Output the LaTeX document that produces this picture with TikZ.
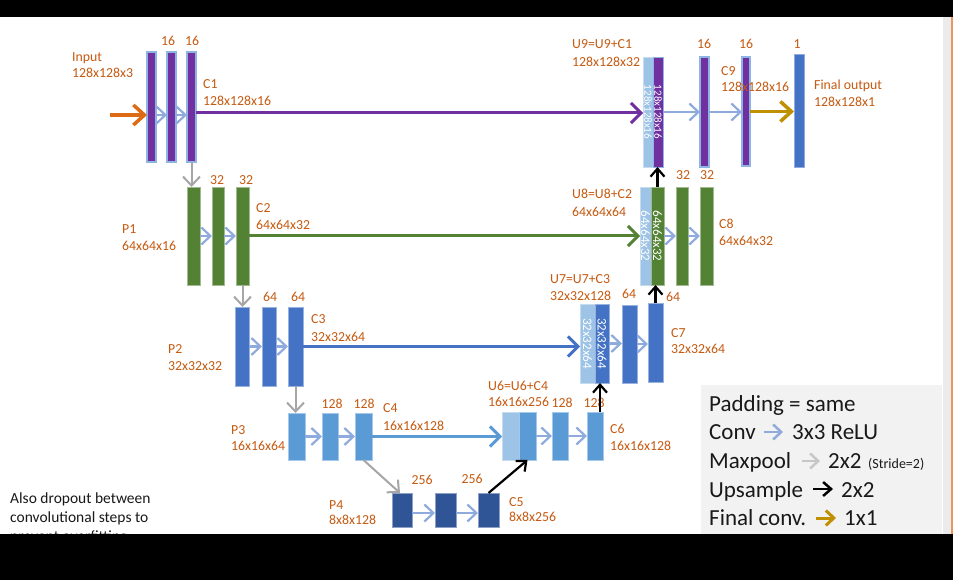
\documentclass[tikz,border=0pt]{standalone}
\usepackage{fontspec}
\setmainfont{Carlito}
\usetikzlibrary{arrows.meta}
\definecolor{purp}{HTML}{7030A0}
\definecolor{outl}{HTML}{8EB4E3}
\definecolor{grn}{HTML}{548235}
\definecolor{blu}{HTML}{4472C4}
\definecolor{lblu}{HTML}{5B9BD5}
\definecolor{dblu}{HTML}{2F5597}
\definecolor{cat}{HTML}{9DC3E6}
\definecolor{lab}{HTML}{C55A11}
\definecolor{arr}{HTML}{8FAADC}
\definecolor{gold}{HTML}{BF9000}
\definecolor{inor}{HTML}{DD6A14}
\definecolor{gry}{HTML}{A6A6A6}
\definecolor{legbg}{HTML}{F2F2F2}
\begin{document}
\begin{tikzpicture}[x=1pt,y=-1pt,
  bar/.style={rectangle, inner sep=0pt, outer sep=0pt, anchor=north west},
  pbar/.style={bar, fill=purp, draw=outl, line width=1.2pt},
  gbar/.style={bar, fill=grn, draw=grn!55!white, line width=0.6pt},
  bbar/.style={bar, fill=blu, draw=blu!55!white, line width=0.6pt},
  lbbar/.style={bar, fill=lblu, draw=lblu!55!white, line width=0.6pt},
  dbbar/.style={bar, fill=dblu, draw=dblu!55!white, line width=0.6pt},
  catbar/.style={bar, fill=cat, draw=cat!60!white, line width=0.6pt},
  obar/.style={bar, fill=blu, draw=blu!60!white, line width=0.6pt},
  lbl/.style={text=lab, font=\fontsize{13.8}{16}\selectfont, inner sep=0pt, anchor=west, text height=9pt, text depth=0pt},
  num/.style={lbl, anchor=center},
  rot/.style={text=white, rotate=-90, inner sep=0pt, font=\fontsize{#1}{#1}\selectfont},
  leg/.style={font=\fontsize{23}{26}\selectfont, text=black!90, inner sep=0pt, anchor=base west},
  note/.style={font=\fontsize{15.5}{18}\selectfont, text=black!90, inner sep=0pt, anchor=base west},
  conv/.style={draw=arr, line width=2.2pt, -{Straight Barb[length=9pt,width=17pt]}},
  skip/.style={draw=#1, line width=3pt, -{Straight Barb[length=10pt,width=20pt]}},
  pool/.style={draw=gry, line width=2pt, -{Straight Barb[length=9pt,width=17pt]}},
  upc/.style={draw=black, line width=2.2pt, -{Straight Barb[length=8pt,width=14pt]}},
  fin/.style={draw=gold, line width=3.5pt, -{Straight Barb[length=11pt,width=20pt]}},
  inp/.style={draw=inor, line width=3.5pt, -{Straight Barb[length=11pt,width=20pt]}}
]
\useasboundingbox (0,0) rectangle (953,580);
\fill[white] (0,0) rectangle (953,580);
% right edge strip
\fill[black!8] (943,17) rectangle (951,534);
\fill[inor!70!white] (951,17) rectangle (953,534);

% legend box
\fill[legbg] (701,385) rectangle (942,534);

% ---------- Row 1 ----------
\node[pbar, minimum width=9pt, minimum height=110pt] (b11) at (147,52) {};
\node[pbar, minimum width=9pt, minimum height=110pt] (b12) at (167,52) {};
\node[pbar, minimum width=9pt, minimum height=110pt] (b13) at (187,52) {};
\node[catbar, minimum width=10pt, minimum height=110pt] (u9a) at (643,57) {};
\node[bar, fill=purp, draw=outl, line width=0.8pt, minimum width=10pt, minimum height=110pt] (u9b) at (653,57) {};
\node[pbar, minimum width=9pt, minimum height=110pt] (c9a) at (700,57) {};
\node[pbar, minimum width=8pt, minimum height=109pt] (c9b) at (742,57) {};
\node[obar, minimum width=10pt, minimum height=113pt] (out) at (794,54) {};
\node[rot=11] (u9at) at (u9a.center) {128x128x16};
\node[rot=11] (u9bt) at (u9b.center) {128x128x16};

% ---------- Row 2 ----------
\node[gbar, minimum width=13pt, minimum height=98pt] (p1a) at (187,187) {};
\node[gbar, minimum width=12pt, minimum height=98pt] (p1b) at (212,187) {};
\node[gbar, minimum width=13pt, minimum height=98pt] (c2) at (236,187) {};
\node[catbar, minimum width=11pt, minimum height=98pt] (u8a) at (640,187) {};
\node[gbar, minimum width=13pt, minimum height=98pt] (u8b) at (651,187) {};
\node[gbar, minimum width=12pt, minimum height=98pt] (c8a) at (676,187) {};
\node[gbar, minimum width=13pt, minimum height=98pt] (c8b) at (700,187) {};
\node[rot=13] (u8at) at (u8a.center) {64x64x32};
\node[rot=13] (u8bt) at (u8b.center) {64x64x32};

% ---------- Row 3 ----------
\node[bbar, minimum width=14pt, minimum height=79pt] (p2a) at (235,307) {};
\node[bbar, minimum width=14pt, minimum height=79pt] (p2b) at (262,307) {};
\node[bbar, minimum width=15pt, minimum height=79pt] (c3) at (288,307) {};
\node[catbar, minimum width=15pt, minimum height=79pt] (u7a) at (580,304) {};
\node[bbar, minimum width=14pt, minimum height=79pt] (u7b) at (595,304) {};
\node[bbar, minimum width=15pt, minimum height=78pt] (c7a) at (622,305) {};
\node[bbar, minimum width=15pt, minimum height=79pt] (c7b) at (648,303) {};
\node[rot=13] (u7at) at (u7a.center) {32x32x64};
\node[rot=13] (u7bt) at (u7b.center) {32x32x64};

% ---------- Row 4 ----------
\node[lbbar, minimum width=17pt, minimum height=47pt] (p3a) at (288,413) {};
\node[lbbar, minimum width=16pt, minimum height=47pt] (p3b) at (322,413) {};
\node[lbbar, minimum width=17pt, minimum height=47pt] (c4) at (355,413) {};
\node[catbar, minimum width=17pt, minimum height=48pt] (u6a) at (502,412) {};
\node[lbbar, minimum width=17pt, minimum height=48pt] (u6b) at (519,412) {};
\node[lbbar, minimum width=16pt, minimum height=48pt] (c6a) at (552,412) {};
\node[lbbar, minimum width=16pt, minimum height=48pt] (c6b) at (587,412) {};

% ---------- Row 5 ----------
\node[dbbar, minimum width=20pt, minimum height=34pt] (p4a) at (392,493) {};
\node[dbbar, minimum width=21pt, minimum height=34pt] (p4b) at (435,493) {};
\node[dbbar, minimum width=21pt, minimum height=34pt] (c5) at (478,493) {};

% ---------- Labels ----------
\node[num] (n11) at (168,41) {16};
\node[num] (n12) at (192,41) {16};
\node[lbl] (linpa) at (72,57) {Input};
\node[lbl] (linpb) at (72,73) {128x128x3};
\node[lbl] (lc1a) at (203,84) {C1};
\node[lbl] (lc1b) at (203,101) {128x128x16};
\node[lbl] (lu9a) at (572,44) {U9=U9+C1};
\node[lbl] (lu9b) at (572,62) {128x128x32};
\node[num] (n91) at (704,44) {16};
\node[num] (n92) at (746,44) {16};
\node[num] (n93) at (797,44) {1};
\node[lbl] (lc9a) at (721,71) {C9};
\node[lbl] (lc9b) at (721,87) {128x128x16};
\node[lbl] (louta) at (814,85) {Final output};
\node[lbl] (loutb) at (814,102) {128x128x1};

\node[num] (n21) at (217,180) {32};
\node[num] (n22) at (246,180) {32};
\node[lbl] (lp1a) at (122,229) {P1};
\node[lbl] (lp1b) at (122,246) {64x64x16};
\node[lbl] (lc2a) at (256,208) {C2};
\node[lbl] (lc2b) at (256,225) {64x64x32};
\node[lbl] (lu8a) at (572,194) {U8=U8+C2};
\node[lbl] (lu8b) at (572,212) {64x64x64};
\node[num] (n81) at (683,175) {32};
\node[num] (n82) at (707,175) {32};
\node[lbl] (lc8a) at (719,224) {C8};
\node[lbl] (lc8b) at (719,241) {64x64x32};

\node[num] (n31) at (270,297) {64};
\node[num] (n32) at (298,297) {64};
\node[lbl] (lp2a) at (168,349) {P2};
\node[lbl] (lp2b) at (168,366) {32x32x32};
\node[lbl] (lc3a) at (311,319) {C3};
\node[lbl] (lc3b) at (311,337) {32x32x64};
\node[lbl] (lu7a) at (550,279) {U7=U7+C3};
\node[lbl] (lu7b) at (550,296) {32x32x128};
\node[num] (n71) at (629,294) {64};
\node[num] (n72) at (673,297) {64};
\node[lbl] (lc7a) at (671,333) {C7};
\node[lbl] (lc7b) at (671,349) {32x32x64};

\node[num] (n41) at (332,404) {128};
\node[num] (n42) at (364,404) {128};
\node[lbl] (lp3a) at (231,430) {P3};
\node[lbl] (lp3b) at (231,446) {16x16x64};
\node[lbl] (lc4a) at (383,408) {C4};
\node[lbl] (lc4b) at (383,426) {16x16x128};
\node[lbl] (lu6a) at (488,386) {U6=U6+C4};
\node[lbl] (lu6b) at (488,402) {16x16x256};
\node[num] (n61) at (562,403) {128};
\node[num] (n62) at (594,403) {128};
\node[lbl] (lc6a) at (610,429) {C6};
\node[lbl] (lc6b) at (610,446) {16x16x128};

\node[num] (n51) at (422,480) {256};
\node[num] (n52) at (472,479) {256};
\node[lbl] (lp4a) at (329,505) {P4};
\node[lbl] (lp4b) at (329,520) {8x8x128};
\node[lbl] (lc5a) at (509,502) {C5};
\node[lbl] (lc5b) at (509,517) {8x8x256};

% ---------- Arrows ----------
\coordinate (in0) at (110,115);
\draw[inp] (in0) -- (in0 -| b11.west);
\draw[conv] ([yshift=-8pt]b11.east) -- ([yshift=-8pt]b12.west);
\draw[conv] ([yshift=-8pt]b12.east) -- ([yshift=-8pt]b13.west);
\draw[skip=purp] ([yshift=-6pt]b13.east) -- ([yshift=-6pt]b13.east -| u9a.west);
\draw[conv] (u9b.east) -- (c9a.west);
\draw[conv] (c9a.east) -- (c9a.east -| c9b.west);
\draw[fin] (c9b.east) -- (c9b.east -| out.west);
\draw[pool] (b13.south) -- (b13.south |- p1a.north);

\draw[conv] (p1a.east) -- (p1b.west);
\draw[conv] (p1b.east) -- (c2.west);
\draw[skip=grn] (c2.east) -- (u8a.west);
\draw[conv] (u8b.east) -- (c8a.west);
\draw[conv] (c8a.east) -- (c8b.west);
\draw[upc] (u8b.north) -- (u8b.north |- u9b.south);
\draw[pool] (c2.south) -- (c2.south |- p2a.north);

\draw[conv] (p2a.east) -- (p2b.west);
\draw[conv] (p2b.east) -- (c3.west);
\draw[skip=blu] (c3.east) -- (c3.east -| u7a.west);
\draw[conv] (u7b.east) -- (u7b.east -| c7a.west);
\draw[conv] (c7a.east) -- (c7a.east -| c7b.west);
\draw[upc] (c7b.north) -- (c7b.north |- u8b.south);
\draw[pool] (c3.south) -- (c3.south |- p3a.north);

\draw[conv] (p3a.east) -- (p3b.west);
\draw[conv] (p3b.east) -- (c4.west);
\draw[skip=lblu] (c4.east) -- (c4.east -| u6a.west);
\draw[conv] (u6b.east) -- (c6a.west);
\draw[conv] (c6a.east) -- (c6b.west);
\draw[upc] ([xshift=5pt]c6b.north) -- ([xshift=5pt]c6b.north |- u7b.south);
\draw[pool] (c4.south) -- ([xshift=-2pt]p4a.north);

\draw[conv] ([yshift=-3pt]p4a.east) -- ([yshift=-3pt]p4b.west);
\draw[conv] ([yshift=-3pt]p4b.east) -- ([yshift=-3pt]c5.west);
\draw[upc] (c5.north) -- (u6b.south);

% ---------- Legend ----------
\node[leg] (lg1) at (709,411) {Padding = same};
\node[leg] (lg2) at (709,439) {Conv};
\node[leg] (lg2b) at (792,439) {3x3 ReLU};
\node[leg] (lg3) at (709,468) {Maxpool};
\node[leg] (lg3b) at (828,468) {2x2};
\node[leg, font=\fontsize{14}{16}\selectfont] (lg3c) at (868,468) {(Stride=2)};
\node[leg] (lg4) at (709,497) {Upsample};
\node[leg] (lg4b) at (841,497) {2x2};
\node[leg] (lg5) at (709,525) {Final conv.};
\node[leg] (lg5b) at (844,525) {1x1};
\coordinate (la1) at (764,432); \coordinate (la2) at (783,432);
\coordinate (lb1) at (802,461); \coordinate (lb2) at (820,461);
\coordinate (lc1) at (813,489); \coordinate (lc2) at (833,489);
\coordinate (ld1) at (816,518); \coordinate (ld2) at (836,518);
\draw[conv, line width=2.5pt, -{Straight Barb[length=8pt,width=15pt]}] (la1) -- (la2);
\draw[pool, draw=black!22, line width=2.5pt, -{Straight Barb[length=8pt,width=15pt]}] (lb1) -- (lb2);
\draw[upc, line width=2.5pt] (lc1) -- (lc2);
\draw[fin, line width=3pt, -{Straight Barb[length=8pt,width=15pt]}] (ld1) -- (ld2);

% ---------- Note ----------
\node[note] (nt1) at (10,503) {Also dropout between};
\node[note] (nt2) at (10,522) {convolutional steps to};
\node[note] (nt3) at (10,541) {prevent overfitting};

% ---------- Black bars ----------
\fill[black] (0,0) rectangle (953,17);
\fill[black] (0,534) rectangle (953,580);
\end{tikzpicture}
\end{document}
